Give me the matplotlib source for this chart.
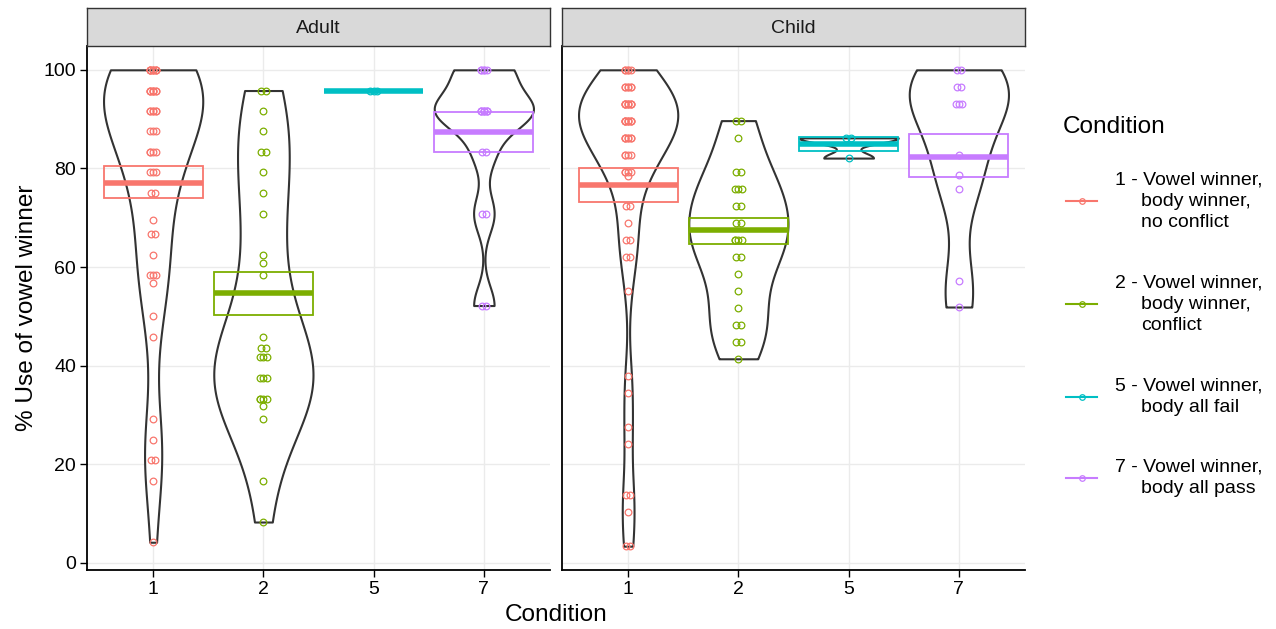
import numpy as np
import matplotlib.pyplot as plt
from matplotlib.lines import Line2D
from matplotlib.patches import Rectangle

plt.rcParams['font.family'] = ['Liberation Sans', 'DejaVu Sans']

# ---------------------------------------------------------------
# data: % use of vowel winner per participant, by condition
# ---------------------------------------------------------------
conditions = ["1", "2", "5", "7"]
panels = ["Adult", "Child"]
colors = ["#F8766D", "#7CAE00", "#00BFC4", "#C77CFF"]
legend_labels = [
    "1 - Vowel winner,\nbody winner,\nno conflict",
    "2 - Vowel winner,\nbody winner,\nconflict",
    "5 - Vowel winner,\nbody all fail",
    "7 - Vowel winner,\nbody all pass",
]

adult_1 = [100, 100, 100, 100, 100, 100, 100, 100, 100, 100,
           95.8, 95.8, 95.8, 95.8, 95.8, 95.8, 95.8, 95.8,
           91.7, 91.7, 91.7, 91.7, 91.7, 91.7, 87.5, 87.5, 87.5,
           83.3, 83.3, 83.3, 83.3, 79.2, 79.2, 79.2, 75.0, 75.0,
           69.6, 66.7, 66.7, 62.5, 58.3, 58.3, 58.3, 56.7, 50.0, 45.8,
           29.2, 25.0, 20.8, 20.8, 16.7, 4.2]
adult_2 = [95.8, 95.8, 91.7, 87.5, 83.3, 83.3, 79.2, 75.0, 70.8, 62.5, 60.9, 58.3,
           45.8, 43.5, 43.5, 41.7, 41.7, 41.7, 37.5, 37.5, 37.5, 33.3, 33.3, 33.3,
           33.3, 31.8, 29.2, 16.7, 8.3]
adult_5 = [95.8, 95.8, 95.8]
adult_7 = [100, 100, 100, 100, 100,
           91.7, 91.7, 91.7, 91.7, 91.7, 91.7, 91.7, 91.7, 91.7,
           83.3, 83.3, 70.8, 70.8, 52.2, 52.2]

child_1 = [100, 100, 100, 100, 100, 96.6, 96.6, 96.6, 96.6, 96.6, 96.6,
           93.1, 93.1, 93.1, 93.1, 93.1, 93.1, 93.1, 93.1, 93.1, 93.1,
           89.7, 89.7, 89.7, 89.7, 89.7, 89.7, 89.7, 89.7, 89.7, 89.7,
           86.2, 86.2, 86.2, 86.2, 86.2, 86.2, 86.2, 82.8, 82.8, 82.8, 82.8,
           79.3, 79.3, 79.3, 79.3, 78.5, 72.4, 72.4, 69.0, 65.5, 65.5, 62.1, 62.1,
           55.2, 37.9, 34.5, 27.6, 24.1, 13.8, 13.8, 10.3, 3.4, 3.4]
child_2 = [89.7, 89.7, 86.2, 79.3, 79.3, 75.9, 75.9, 75.9, 72.4, 72.4, 69.0, 69.0,
           65.5, 65.5, 65.5, 65.5, 62.1, 62.1, 58.6, 55.2, 51.7, 48.3, 48.3,
           44.8, 44.8, 41.4]
child_5 = [86.2, 86.2, 82.1]
child_7 = [100, 100, 96.5, 96.5, 93.1, 93.1, 93.1, 82.8, 78.6, 75.9, 57.2, 51.9]

# mean and +/- 1 SE crossbars
adult_mean = [77.1, 54.7, 95.8, 87.4]
adult_lo = [74.0, 50.2, 95.8, 83.4]
adult_hi = [80.5, 59.1, 95.8, 91.4]
child_mean = [76.7, 67.5, 85.0, 82.4]
child_lo = [73.1, 64.7, 83.6, 78.2]
child_hi = [80.1, 69.9, 86.3, 87.0]

panel_data = {
    "Adult": ([adult_1, adult_2, adult_5, adult_7], adult_mean, adult_lo, adult_hi),
    "Child": ([child_1, child_2, child_5, child_7], child_mean, child_lo, child_hi),
}

# ---------------------------------------------------------------
# layout (pixels of a 1276 x 629 canvas)
# ---------------------------------------------------------------
W, H = 1276, 629
fig = plt.figure(figsize=(W / 100, H / 100), dpi=100)


def fx(x):
    return x / W


def fy(y):
    return 1 - y / H


def nrd0(kde):
    # R's default bandwidth (bw.nrd0) as a factor of the sample sd
    d = np.asarray(kde.dataset).ravel()
    sd = d.std(ddof=1)
    q75, q25 = np.percentile(d, [75, 25])
    lo = min(sd, (q75 - q25) / 1.34)
    if lo <= 0:
        lo = sd
    return 0.9 * lo * len(d) ** -0.2 / sd


def tie_offsets(k):
    # tied values drawn at up to three spots around the centre
    if k == 1:
        return np.zeros(1)
    if k == 2:
        return np.array([-0.02, 0.02])
    return np.resize([-0.03, 0.0, 0.03], k)


panel_left = [87, 562]
panel_w = 463
panel_top, panel_bot = 46, 570
strip_top = 8

pos = np.arange(1, len(conditions) + 1)

for p, name in enumerate(panels):
    groups, means, los, his = panel_data[name]
    x0 = panel_left[p]
    ax = fig.add_axes([fx(x0), fy(panel_bot), panel_w / W, (panel_bot - panel_top) / H])

    # violins (skip groups with no spread)
    keep = [i for i, g in enumerate(groups) if np.ptp(g) > 0]
    parts = ax.violinplot([groups[i] for i in keep], positions=pos[keep], widths=0.9,
                          showextrema=False, points=300, bw_method=nrd0)
    for body in parts["bodies"]:
        body.set_facecolor("white")
        body.set_edgecolor("#333333")
        body.set_linewidth(1.5)
        body.set_alpha(1)
        body.set_zorder(2)

    # crossbars
    for i, c in enumerate(colors):
        ax.add_patch(Rectangle((pos[i] - 0.45, los[i]), 0.9, his[i] - los[i],
                               fill=False, edgecolor=c, lw=1.3, zorder=3))
        ax.hlines(means[i], pos[i] - 0.45, pos[i] + 0.45, color=c, lw=4, zorder=3)

    # individual points
    for i, (g, c) in enumerate(zip(groups, colors)):
        vals, counts = np.unique(g, return_counts=True)
        for v, k in zip(vals, counts):
            ax.plot(pos[i] + tie_offsets(k), [v] * k, "o", mfc="none", mec=c,
                    ms=4.8, mew=0.9, zorder=4)

    ax.set_xlim(0.4, 4.6)
    ax.set_ylim(-1.43, 104.83)
    ax.set_xticks(pos)
    ax.set_xticklabels(conditions)
    ax.set_yticks([0, 20, 40, 60, 80, 100])
    ax.grid(True, color="#EBEBEB", lw=1.0)
    ax.set_axisbelow(True)
    for s in ["top", "right"]:
        ax.spines[s].set_visible(False)
    for s in ["left", "bottom"]:
        ax.spines[s].set_color("black")
        ax.spines[s].set_linewidth(1.3)
    ax.tick_params(length=5, width=1.0, color="black", labelsize=14,
                   labelcolor="black", pad=3)
    if p > 0:
        ax.tick_params(axis="y", left=False, labelleft=False)

    # facet strip
    sax = fig.add_axes([fx(x0), fy(panel_top), panel_w / W, (panel_top - strip_top) / H])
    sax.set_facecolor("#D9D9D9")
    sax.set_xticks([])
    sax.set_yticks([])
    for s in sax.spines.values():
        s.set_color("#333333")
        s.set_linewidth(1.0)
    sax.text(0.5, 0.45, name, ha="center", va="center", fontsize=14,
             color="#1A1A1A", transform=sax.transAxes)

# axis titles
fig.text(fx(556), fy(615), "Condition", ha="center", va="center", fontsize=17.6)
fig.text(fx(27), fy(308), "% Use of vowel winner", ha="center", va="center",
         rotation=90, fontsize=17.6)

# legend
fig.text(fx(1063), fy(127), "Condition", ha="left", va="center", fontsize=17.6)
line_h, gap = 21.5, 38.5
top = 169
for lab, c in zip(legend_labels, colors):
    lines = lab.split("\n")
    for j, t in enumerate(lines):
        xt = 1115 if j == 0 else 1141
        fig.text(fx(xt), fy(top + line_h * (j + 0.5)), t, ha="left", va="center",
                 fontsize=14)
    yk = top + line_h * len(lines) / 2
    fig.add_artist(Line2D([fx(1066), fx(1097)], [fy(yk), fy(yk)], color=c, lw=1.5,
                          transform=fig.transFigure))
    fig.add_artist(Line2D([fx(1081.5)], [fy(yk)], marker="o", mfc="none", mec=c,
                          ms=4, mew=0.9, transform=fig.transFigure))
    top += line_h * len(lines) + gap

fig.savefig("out.png", dpi=100)
